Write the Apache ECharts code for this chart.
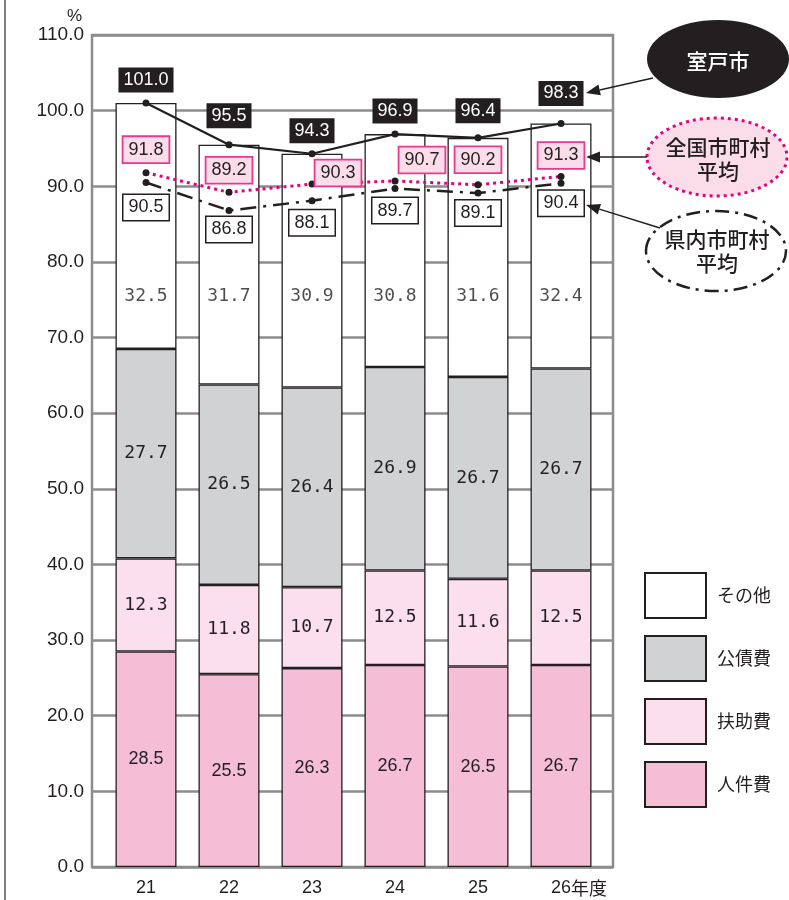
<!DOCTYPE html>
<html><head><meta charset="utf-8">
<script src="https://cdn.jsdelivr.net/npm/echarts@6/dist/echarts.min.js"></script>
<style>html,body{margin:0;padding:0;background:#fff}#c{width:789px;height:900px}</style>
</head><body><div id="c"></div>
<script>
// ---- data ----
const categories = ['21','22','23','24','25','26年度'];
const personnel = [28.5, 25.5, 26.3, 26.7, 26.5, 26.7];   // 人件費
const assistance = [12.3, 11.8, 10.7, 12.5, 11.6, 12.5];  // 扶助費
const debt = [27.7, 26.5, 26.4, 26.9, 26.7, 26.7];        // 公債費
const other = [32.5, 31.7, 30.9, 30.8, 31.6, 32.4];       // その他
const muroto = [101.0, 95.5, 94.3, 96.9, 96.4, 98.3];     // 室戸市
const national = [91.8, 89.2, 90.3, 90.7, 90.2, 91.3];    // 全国市町村平均
const prefecture = [90.5, 86.8, 88.1, 89.7, 89.1, 90.4];  // 県内市町村平均
const yTicks = [0, 110, 10];

// ---- layout (label offsets, px) ----
const murotoLabelDy = [-23, -29, -23, -23, -27, -30];
const nationalLabelDx = [0, 0, 26, 27, 0, 0];
const nationalLabelDy = [-23, -22, -11, -21, -25, -21];
const prefLabelDy = [25, 19, 22, 22, 20, 20];
const otherLabelLevel = 75.5;

const ink = '#231f20';
const sans = '"Liberation Sans", Arial, sans-serif';
const mono = '"DejaVu Sans Mono", monospace';
const jp = '"Noto Sans CJK JP", sans-serif';

const chart = echarts.init(document.getElementById('c'));

function barSeries(name, data, color, fontFamily, showLabel) {
  return {
    name, type: 'bar', stack: 'total', xAxisIndex: 1, yAxisIndex: 1,
    barWidth: 61, data,
    itemStyle: { color, borderColor: ink, borderWidth: 1.3 },
    label: { show: showLabel, position: 'inside', color: ink, fontSize: 18,
      fontFamily, formatter: p => p.value.toFixed(1) },
    emphasis: { disabled: true }, z: 3
  };
}

function lineLabelData(vals, dxs, dys, labelStyle) {
  return vals.map((v, i) => ({
    value: v,
    label: Object.assign({ show: true, position: 'inside', offset: [dxs ? dxs[i] : 0, dys[i]],
      fontSize: 18, fontFamily: sans, lineHeight: 19, padding: [3, 5, 3, 5],
      formatter: p => p.value.toFixed(1) }, labelStyle)
  }));
}

function arrow(x1, y1, x2, y2) {
  const a = Math.atan2(y2 - y1, x2 - x1);
  const L = 14, W = 5.5;
  const bx = x2 - L * Math.cos(a), by = y2 - L * Math.sin(a);
  const px = -Math.sin(a) * W, py = Math.cos(a) * W;
  return [
    { type: 'line', shape: { x1, y1, x2: bx, y2: by }, style: { stroke: ink, lineWidth: 1.5 }, z: 20 },
    { type: 'polygon', shape: { points: [[x2, y2], [bx + px, by + py], [bx - px, by - py]] }, style: { fill: ink }, z: 20 }
  ];
}

const option = {
  backgroundColor: '#fff',
  animation: false,
  grid: [
    { left: 92, right: 176, top: 35, bottom: 33, show: true, borderColor: '#8c8c8c', borderWidth: 2.5, backgroundColor: 'transparent' },
    { left: 104.5, right: 186.5, top: 35, bottom: 33 }
  ],
  xAxis: [
    { gridIndex: 0, type: 'value', show: false, min: 0, max: 1 },
    { gridIndex: 1, type: 'category', data: categories, boundaryGap: true,
      axisLine: { show: false }, axisTick: { show: false },
      axisLabel: { interval: 0, margin: 12, color: ink, fontSize: 18, fontFamily: sans,
        formatter: v => v.indexOf('年度') > 0 ? '{p|' + v.replace('年度', '') + '}{q|年度}' : v,
        rich: { p: { fontSize: 18, fontFamily: sans, color: ink, padding: [0, 0, 0, 36] },
                q: { fontSize: 18, fontFamily: jp, color: ink } } } }
  ],
  yAxis: [
    { gridIndex: 0, type: 'value', min: yTicks[0], max: yTicks[1], interval: yTicks[2],
      name: '%', nameLocation: 'end', nameGap: 10,
      nameTextStyle: { align: 'right', padding: [0, 10, 0, 0], color: ink, fontSize: 17, fontFamily: sans },
      axisLine: { show: false }, axisTick: { show: false },
      axisLabel: { margin: 8, color: ink, fontSize: 19, fontFamily: sans, formatter: v => v.toFixed(1) },
      splitLine: { show: true, lineStyle: { color: '#8c8c8c', width: 2.5 } } },
    { gridIndex: 1, type: 'value', min: yTicks[0], max: yTicks[1], interval: yTicks[2], show: false, splitLine: { show: false } }
  ],
  legend: {
    data: ['その他', '公債費', '扶助費', '人件費'],
    orient: 'vertical', left: 644, top: 572, itemWidth: 61, itemHeight: 45, itemGap: 16,
    icon: 'rect', padding: 0, selectedMode: false,
    textStyle: { fontSize: 18, color: ink, fontFamily: jp, padding: [0, 0, 0, 6] }
  },
  series: [
    barSeries('人件費', personnel, '#f6bdd6', sans, true),
    barSeries('扶助費', assistance, '#fcdfec', mono, true),
    barSeries('公債費', debt, '#d1d2d4', mono, true),
    barSeries('その他', other, '#ffffff', mono, false),
    { name: 'その他ラベル', type: 'scatter', xAxisIndex: 1, yAxisIndex: 1, symbolSize: 0, silent: true, z: 5,
      data: other.map((v, i) => [i, otherLabelLevel]),
      label: { show: true, position: 'inside', color: ink, fontSize: 18, fontFamily: mono,
        formatter: p => other[p.dataIndex].toFixed(1) } },
    { name: '県内市町村平均', type: 'line', xAxisIndex: 1, yAxisIndex: 1, z: 10,
      symbol: 'circle', symbolSize: 7, itemStyle: { color: ink },
      lineStyle: { color: ink, width: 2.5, type: [16, 7, 3, 7] },
      data: lineLabelData(prefecture, null, prefLabelDy,
        { color: ink, backgroundColor: '#fff', borderColor: ink, borderWidth: 1.5 }) },
    { name: '全国市町村平均', type: 'line', xAxisIndex: 1, yAxisIndex: 1, z: 11,
      symbol: 'circle', symbolSize: 7, itemStyle: { color: ink },
      lineStyle: { color: '#e6007e', width: 3, type: [3, 4] },
      data: lineLabelData(national, nationalLabelDx, nationalLabelDy,
        { color: ink, backgroundColor: '#fbdde9', borderColor: '#e8388f', borderWidth: 1.8 }) },
    { name: '室戸市', type: 'line', xAxisIndex: 1, yAxisIndex: 1, z: 12,
      symbol: 'circle', symbolSize: 7, itemStyle: { color: ink },
      lineStyle: { color: ink, width: 2.2 },
      data: lineLabelData(muroto, null, murotoLabelDy,
        { color: '#fff', backgroundColor: ink }) }
  ],
  graphic: [
    { type: 'line', shape: { x1: 5, y1: 0, x2: 5, y2: 900 }, style: { stroke: '#555', lineWidth: 1.5 } },
    { type: 'ellipse', shape: { cx: 718, cy: 59, rx: 71, ry: 39 }, style: { fill: ink }, z: 15 },
    { type: 'text', x: 718, y: 61, style: { text: '室戸市', fill: '#fff', font: '500 21px "Noto Sans CJK JP"', textAlign: 'center', textVerticalAlign: 'middle' }, z: 16 },
    { type: 'ellipse', shape: { cx: 717, cy: 157, rx: 70, ry: 39 }, style: { fill: '#fbdde9', stroke: '#e6007e', lineWidth: 3, lineDash: [3, 4] }, z: 15 },
    { type: 'text', x: 718, y: 159, style: { text: '全国市町村\n平均', fill: ink, font: '500 21px "Noto Sans CJK JP"', lineHeight: 24, textAlign: 'center', textVerticalAlign: 'middle' }, z: 16 },
    { type: 'ellipse', shape: { cx: 716, cy: 251, rx: 70, ry: 40 }, style: { fill: '#fff', stroke: ink, lineWidth: 2.5, lineDash: [14, 6, 3, 6] }, z: 15 },
    { type: 'text', x: 717, y: 251, style: { text: '県内市町村\n平均', fill: ink, font: '500 21px "Noto Sans CJK JP"', lineHeight: 24, textAlign: 'center', textVerticalAlign: 'middle' }, z: 16 },
    ...arrow(653, 78, 586, 93),
    ...arrow(647, 157, 586, 157),
    ...arrow(660, 228, 586, 205)
  ]
};
chart.setOption(option);
</script>
</body></html>
